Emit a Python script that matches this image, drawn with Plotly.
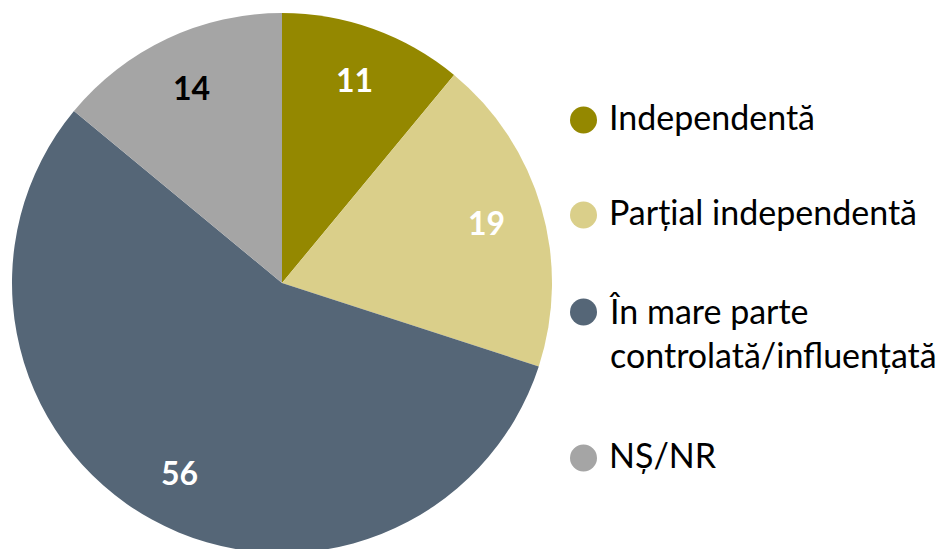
import math
import plotly.graph_objects as go

# data
categories = ["Independentă", "Parțial independentă", "În mare parte<br>controlată/influențată", "NȘ/NR"]
values = [11, 19, 56, 14]
colors = ["#948800", "#dacf8a", "#556677", "#a5a5a5"]
label_colors = ["white", "white", "white", "black"]

W, H = 948, 549
OFF = 8  # the page body adds an 8px margin, so shift everything back
CX, CY, R = 282 - OFF, 283 - OFF, 270  # pie centre / radius in px
FONT = "Lato"

fig = go.Figure()
fig.add_trace(go.Pie(
    values=values,
    labels=categories,
    marker={"colors": colors, "line": {"width": 0}},
    sort=False,
    direction="clockwise",
    rotation=0,
    textinfo="none",
    hoverinfo="label+value",
    showlegend=False,
    domain={"x": [(CX - R) / W, (CX + R) / W], "y": [1 - (CY + R) / H, 1 - (CY - R) / H]},
))

# value labels along each slice bisector, at ~0.79 of the radius
total = sum(values)
cum = 0
for v, col in zip(values, label_colors):
    mid = (cum + v / 2) / total * 2 * math.pi
    cum += v
    px = CX + 0.79 * R * math.sin(mid)
    py = CY - 0.80 * R * math.cos(mid)
    fig.add_annotation(
        x=px / W, y=1 - py / H, xref="paper", yref="paper",
        xanchor="center", yanchor="middle",
        text=f"<b>{v}</b>", showarrow=False,
        font={"family": FONT, "size": 32, "color": col},
    )

# legend drawn by hand so the circles can be large
legend_marker_y = [120, 215, 312, 458]
legend_text_y = [116, 211, 332, 454]
for cat, col, my, ty in zip(categories, colors, legend_marker_y, legend_text_y):
    my -= OFF
    ty -= OFF
    fig.add_shape(
        type="circle", xref="paper", yref="paper",
        x0=(570 - OFF) / W, x1=(597 - OFF) / W, y0=1 - (my + 13.5) / H, y1=1 - (my - 13.5) / H,
        fillcolor=col, line_width=0,
    )
    fig.add_annotation(
        x=(607 - OFF) / W, y=1 - ty / H, xref="paper", yref="paper",
        text=cat, showarrow=False, xanchor="left", yanchor="middle", align="left",
        font={"family": FONT, "size": 34, "color": "black"},
    )

fig.update_layout(
    width=W, height=H,
    margin={"l": 0, "r": 0, "t": 0, "b": 0},
    paper_bgcolor="white", plot_bgcolor="white",
    showlegend=False,
)

fig.write_html("out.html")
